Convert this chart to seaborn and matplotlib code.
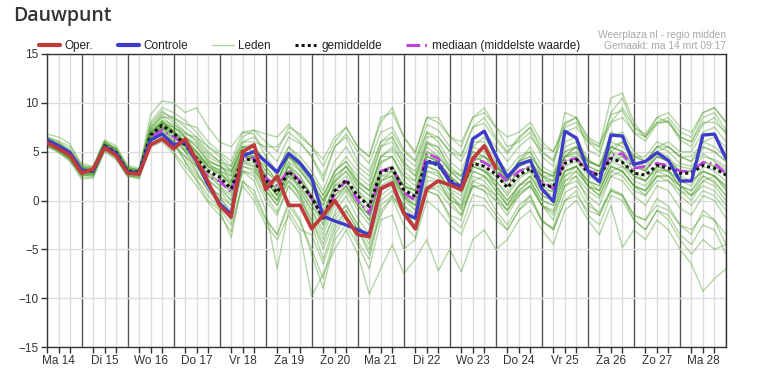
import numpy as np
import pandas as pd
import matplotlib
matplotlib.use("Agg")
import matplotlib.pyplot as plt
import matplotlib.dates as mdates
from matplotlib.lines import Line2D
from matplotlib.ticker import FuncFormatter, NullFormatter
import seaborn as sns

# ---------------- data ----------------
tijden = pd.date_range("2022-03-14 06:00", periods=60, freq="6h")
dagnamen = ["Ma", "Di", "Wo", "Do", "Vr", "Za", "Zo"]
y_ticks = [-15, -10, -5, 0, 5, 10, 15]
labels = ["Oper.", "Controle", "Leden", "gemiddelde", "mediaan (middelste waarde)"]

oper = [5.9, 5.3, 4.6, 2.8, 3.2, 5.4, 4.6, 2.8, 2.7, 5.7, 6.3, 5.3, 6.3, 4.1, 1.9,
        -0.5, -1.7, 5.0, 5.7, 1.1, 2.5, -0.5, -0.5, -2.9, -1.5, 0.0, -1.8, -3.5, -3.7,
        1.2, 1.8, -1.3, -2.9, 1.2, 2.0, 1.6, 1.1, 4.3, 5.6, 3.3]
controle = [6.2, 5.6, 4.9, 3.1, 3.0, 5.5, 4.8, 2.9, 2.8, 6.2, 6.8, 5.7, 6.0, 4.0, 1.6,
            -0.3, -1.4, 4.6, 5.0, 4.0, 2.9, 4.8, 3.8, 2.3, -1.6, -2.1, -2.5, -3.0, -3.5,
            1.2, 1.8, -1.3, -1.8, 3.9, 3.8, 1.9, 1.4, 6.3, 7.1, 4.6, 2.4, 3.7, 4.1,
            1.2, -0.1, 7.1, 6.4, 3.0, 1.9, 6.7, 6.6, 3.7, 4.0, 4.9, 4.1, 2.0, 2.0,
            6.7, 6.8, 4.3]
gemiddelde = [6.0, 5.4, 4.6, 3.0, 3.0, 5.6, 4.9, 3.0, 2.9, 6.7, 7.7, 6.9, 5.7, 4.3, 3.0,
              2.4, 1.2, 4.3, 4.1, 2.1, 0.8, 3.0, 1.8, 0.3, -1.8, 1.0, 2.1, 0.5, -0.6,
              2.9, 3.3, 1.1, 0.4, 4.1, 3.6, 2.1, 1.3, 3.8, 3.5, 2.7, 1.3, 2.6, 3.3,
              1.6, 1.4, 3.8, 4.2, 2.9, 2.6, 4.3, 3.9, 2.8, 2.6, 3.6, 3.3, 2.8, 2.8,
              3.6, 3.3, 2.6]
mediaan = [6.1, 5.4, 4.7, 2.9, 3.0, 5.6, 4.9, 2.9, 2.8, 6.5, 7.2, 6.5, 5.8, 3.9, 2.4,
           2.0, 0.8, 4.5, 4.3, 2.3, 1.5, 3.1, 2.0, 0.2, -1.7, 0.7, 2.0, 0.0, -1.3,
           3.0, 3.4, 0.8, 0.0, 4.8, 4.3, 2.0, 1.2, 4.3, 3.9, 3.1, 1.9, 3.0, 3.5,
           2.0, 1.2, 4.1, 4.3, 3.1, 2.6, 4.6, 4.8, 3.3, 3.5, 3.8, 3.6, 3.0, 3.0,
           3.9, 3.8, 2.8]

lid_01 = [6.3, 5.8, 5.0, 3.3, 3.2, 5.9, 5.3, 3.4, 3.1, 8.0, 9.5, 9.0, 8.2, 7.0, 5.5, 4.8, 3.5, 6.0, 6.5,
          5.2, 4.0, 6.5, 5.8, 4.5, 2.0, 5.5, 6.8, 5.0, 3.8, 7.0, 7.5, 5.2, 4.1, 7.8, 7.2, 5.5, 4.6, 7.5,
          7.9, 6.2, 4.8, 6.3, 7.5, 5.0, 4.2, 7.8, 8.5, 6.3, 5.5, 8.8, 9.2, 6.9, 6.1, 7.8, 8.2, 6.5, 6.0,
          8.5, 9.0, 7.2]
lid_02 = [5.8, 5.2, 4.2, 2.6, 2.5, 5.2, 4.5, 2.6, 2.2, 5.5, 6.0, 4.8, 3.0, 1.5, -0.2, -1.5, -3.2, 2.0,
          1.0, -1.8, -3.5, -0.5, -2.2, -5.0, -8.0, -3.5, -1.5, -4.2, -6.0, -1.0, 0.2, -2.5, -3.8, 1.0,
          0.5, -1.8, -2.8, 0.6, 0.2, -1.5, -3.0, -1.0, 0.5, -2.2, -2.8, 0.8, 1.5, -0.5, -1.2, 1.2, 0.6,
          -1.5, -2.0, 0.2, -0.6, -2.5, -3.5, -1.0, -2.0, -4.5]
lid_03 = [6.5, 6.1, 5.5, 3.8, 3.5, 6.2, 5.6, 3.6, 3.3, 7.5, 8.6, 7.5, 6.5, 5.8, 4.2, 3.5, 2.8, 5.5, 5.0,
          3.0, 1.8, 4.5, 3.2, 1.5, -0.5, 2.5, 3.5, 1.5, 0.5, 4.5, 5.2, 3.0, 2.0, 5.8, 5.5, 3.2, 2.5, 5.0,
          4.5, 3.8, 2.2, 4.0, 5.5, 3.5, 2.8, 6.0, 6.5, 4.2, 3.5, 7.0, 6.5, 4.5, 4.0, 5.5, 5.0, 3.8, 3.5,
          4.8, 4.0, 3.2]
lid_04 = [5.5, 5.0, 4.0, 2.2, 2.3, 5.0, 4.2, 2.4, 2.5, 6.0, 7.0, 5.8, 4.5, 2.8, 1.0, 0.2, -1.0, 3.0, 2.8,
          0.5, -1.2, 1.5, 0.2, -2.0, -4.5, -1.2, 0.5, -1.8, -3.5, 1.0, 1.8, -0.5, -1.5, 2.5, 2.0, 0.2,
          -0.8, 2.0, 1.5, 0.5, -1.0, 0.8, 1.5, -0.5, -1.2, 2.0, 2.5, 1.0, 0.2, 2.5, 2.0, 0.5, -0.5, 1.5,
          1.0, -0.8, -1.5, 0.5, 0.0, -1.8]
lid_05 = [6.8, 6.5, 5.8, 3.5, 3.1, 5.8, 5.4, 3.3, 3.0, 8.8, 10.2, 10.0, 9.0, 9.5, 7.5, 6.0, 5.5, 7.0,
          7.2, 6.8, 6.5, 7.8, 6.5, 5.5, 4.2, 6.5, 7.5, 5.5, 4.5, 8.0, 9.5, 6.5, 4.8, 8.5, 8.0, 6.5, 6.0,
          8.5, 9.0, 7.5, 5.5, 6.0, 7.0, 4.5, 3.5, 9.0, 8.5, 5.2, 4.5, 9.0, 10.5, 7.5, 6.5, 8.5, 8.0, 6.2,
          5.5, 7.8, 8.5, 6.8]
lid_06 = [5.9, 5.3, 4.4, 2.9, 2.8, 5.5, 4.8, 2.8, 2.6, 6.4, 7.4, 6.8, 5.0, 3.5, 2.0, 1.2, 0.0, 4.5, 4.5,
          2.5, 0.5, 3.8, 2.5, 0.5, -2.5, 0.0, 1.2, -0.5, -2.0, 2.5, 3.0, 0.5, -0.5, 4.0, 3.5, 1.8, 0.8,
          3.5, 3.0, 2.0, 0.5, 2.2, 3.0, 1.0, 1.0, 3.5, 4.0, 2.5, 2.0, 4.5, 4.0, 2.5, 2.0, 3.2, 3.0, 2.2,
          2.0, 3.0, 2.5, 1.5]
lid_07 = [6.0, 5.6, 4.9, 3.2, 3.3, 6.0, 5.2, 3.2, 3.0, 7.0, 8.2, 7.8, 7.0, 6.0, 4.5, 3.8, 2.0, 5.0, 5.5,
          4.0, 2.5, 5.0, 4.0, 2.5, 0.5, 3.0, 4.0, 2.5, 1.5, 5.5, 6.0, 3.5, 2.5, 6.0, 5.0, 3.0, 2.0, 5.5,
          6.5, 4.5, 3.0, 4.5, 5.0, 3.0, 2.5, 5.5, 6.0, 4.0, 3.5, 6.0, 5.5, 4.5, 4.5, 6.0, 5.5, 4.5, 4.0,
          6.0, 5.5, 4.5]
lid_08 = [6.1, 5.5, 4.5, 2.8, 2.6, 5.3, 4.6, 2.7, 2.4, 5.8, 6.3, 5.0, 3.5, 2.2, 0.5, -0.8, -2.5, 1.5,
          0.0, -2.5, -4.0, -1.5, -3.5, -9.8, -7.5, -5.0, -3.0, -5.5, -9.6, -7.0, -4.5, -7.5, -6.0, -4.0,
          -7.2, -5.0, -7.3, -4.0, -3.0, -5.0, -4.0, -2.0, -1.0, -3.0, -4.5, -1.0, 0.0, -2.0, -3.5, -0.5,
          -4.8, -3.0, -4.0, -2.0, -3.0, -5.0, -6.5, -9.3, -8.0, -7.0]
lid_09 = [6.4, 5.9, 5.2, 3.6, 3.4, 6.1, 5.3, 3.2, 3.1, 7.2, 8.8, 8.0, 6.5, 5.0, 3.5, 2.8, 1.8, 4.8, 4.2,
          2.2, 1.2, 3.5, 2.0, 0.5, -1.5, 1.8, 3.0, 1.0, 0.0, 3.8, 4.5, 2.5, 2.0, 5.5, 4.5, 3.0, 2.0, 4.5,
          4.0, 3.5, 2.5, 3.5, 4.0, 2.5, 2.0, 4.5, 4.8, 3.5, 3.0, 5.0, 4.5, 3.5, 3.2, 4.5, 4.0, 3.5, 3.2,
          4.5, 4.2, 3.5]
lid_10 = [5.7, 5.1, 4.3, 2.5, 2.7, 5.4, 4.7, 2.9, 2.7, 6.2, 7.0, 6.0, 4.0, 2.5, 1.5, 0.5, -1.5, 3.5, 3.2,
          1.0, -0.5, 2.0, 0.8, -1.0, -3.5, -0.5, 1.0, -1.0, -2.5, 1.5, 2.2, 0.0, -1.0, 3.0, 2.8, 1.0,
          0.0, 3.0, 2.5, 1.5, 0.0, 1.5, 2.0, 0.0, -0.5, 2.5, 3.0, 1.5, 1.0, 3.5, 3.0, 1.5, 1.0, 2.5, 2.0,
          1.0, 0.5, 2.5, 1.8, 0.5]
lid_11 = [6.2, 5.5, 4.7, 3.1, 3.0, 5.7, 5.0, 3.1, 2.9, 6.8, 7.9, 7.2, 6.0, 5.0, 3.8, 3.0, 2.5, 5.5, 5.8,
          3.5, 2.0, 4.5, 3.5, 1.8, 0.0, 2.0, 3.5, 1.8, 1.0, 4.5, 5.5, 3.8, 3.0, 6.5, 6.5, 5.0, 4.5, 7.5,
          8.5, 6.5, 5.0, 6.5, 7.5, 5.5, 5.0, 8.0, 8.5, 6.5, 5.8, 8.0, 9.5, 7.5, 6.8, 8.5, 9.0, 7.5, 7.0,
          9.0, 9.5, 8.0]
lid_12 = [5.6, 4.9, 4.1, 2.4, 2.4, 5.1, 4.3, 2.5, 2.3, 5.7, 6.5, 5.5, 4.5, 3.5, 2.5, 1.5, 0.5, 3.8, 3.5,
          1.0, 0.0, 2.8, 1.2, -0.5, -2.0, 0.5, 1.5, -0.5, -1.5, 2.0, 2.5, 0.2, -0.5, 3.5, 3.0, 1.2, 0.5,
          3.5, 3.0, 2.0, 0.8, 2.5, 3.0, 1.5, 0.8, 3.0, 3.5, 2.0, 1.5, 4.0, 3.5, 2.5, 2.0, 3.5, 3.5, 2.5,
          2.0, 3.0, 2.5, 1.2]
lid_13 = [6.0, 5.4, 4.8, 3.0, 2.9, 5.6, 4.9, 3.0, 2.8, 6.6, 7.5, 6.5, 5.5, 4.0, 2.8, 2.0, 0.8, 4.0, 3.8,
          2.0, 0.5, 3.0, 1.5, 0.0, -2.0, 1.0, 2.0, 0.0, -1.0, 3.0, 3.0, 0.5, -0.5, 3.5, 3.0, 1.0, -1.0,
          1.5, 1.0, -1.0, -2.5, -0.5, 0.5, -2.0, -3.0, 0.0, 1.0, -1.5, -2.5, 0.5, 0.0, -2.0, -3.0, -1.0,
          -1.5, -3.5, -4.5, -2.5, -3.0, -5.5]
lid_14 = [6.2, 5.7, 4.8, 3.2, 3.1, 5.8, 5.1, 3.1, 3.0, 7.5, 9.0, 8.5, 7.5, 6.5, 5.0, 4.0, 3.0, 6.0, 6.0,
          5.5, 5.5, 7.0, 6.0, 4.5, 2.5, 5.5, 6.5, 4.0, 3.0, 6.0, 6.5, 4.5, 3.5, 7.0, 6.0, 4.0, 3.0, 6.0,
          6.0, 4.0, 2.0, 4.0, 5.0, 2.5, 1.5, 4.5, 5.5, 3.0, 2.0, 5.0, 6.0, 4.0, 3.0, 5.0, 4.5, 3.0, 3.0,
          5.5, 5.0, 4.0]
lid_15 = [5.8, 5.1, 4.3, 2.7, 2.8, 5.5, 4.8, 2.9, 2.8, 6.3, 7.0, 6.5, 5.5, 4.5, 3.5, 3.2, 2.0, 5.0, 4.8,
          2.5, 1.0, 3.5, 2.0, 0.5, -1.0, 1.5, 2.0, 0.0, -1.5, 2.5, 2.5, 0.5, 0.0, 4.0, 3.5, 2.0, 1.0, 4.0,
          4.5, 3.0, 1.5, 3.0, 3.5, 2.0, 2.0, 4.5, 5.0, 3.5, 3.0, 5.5, 5.0, 3.5, 3.0, 4.5, 4.0, 3.0, 3.0,
          4.0, 3.5, 2.8]
lid_16 = [6.0, 5.3, 4.5, 2.9, 2.9, 5.6, 4.9, 3.0, 2.9, 6.5, 7.5, 6.0, 4.0, 2.0, 0.0, -1.0, -3.8, 2.0,
          0.5, -2.0, -3.5, 0.0, -2.0, -5.5, -9.0, -4.0, -2.5, -4.5, -7.0, -2.0, -1.5, -5.0, -4.0, 0.0,
          -1.0, -2.5, -3.5, -0.5, -0.5, -2.0, -3.0, -1.0, 0.0, -2.0, -3.0, 0.0, 0.5, -1.0, -1.5, 1.0, 0.5,
          -1.5, -2.0, -0.5, -1.0, -2.5, -3.0, -1.5, -2.0, -3.5]
lid_17 = [6.5, 6.0, 5.1, 3.4, 3.4, 6.0, 5.3, 3.4, 3.2, 7.2, 8.5, 8.5, 7.8, 7.5, 6.0, 5.0, 4.0, 7.0, 6.8,
          4.5, 3.0, 5.5, 4.0, 2.5, 0.5, 3.0, 4.0, 2.0, 1.0, 4.0, 4.5, 2.0, 1.0, 5.0, 4.0, 2.0, 1.0, 4.5,
          4.5, 3.5, 2.0, 4.0, 4.5, 3.0, 2.5, 5.0, 5.5, 4.0, 3.5, 6.5, 7.0, 5.0, 4.0, 5.5, 5.5, 4.5, 4.0,
          5.5, 5.0, 4.0]
lid_18 = [5.9, 5.4, 4.6, 3.0, 3.1, 5.7, 5.0, 3.0, 2.9, 6.5, 7.5, 6.8, 6.0, 4.8, 3.0, 1.5, 0.0, 3.5, 3.0,
          1.5, 0.0, 2.0, 0.5, -1.5, -4.0, -1.5, -0.5, -2.5, -4.5, 0.0, 1.0, -1.0, -2.0, 2.0, 2.0, 0.0,
          -1.5, 1.5, 1.5, 0.0, -1.5, 0.5, 1.5, -0.5, -1.0, 2.0, 3.0, 1.5, 0.5, 3.0, 2.5, 1.0, 0.5, 2.0,
          2.0, 0.5, -0.5, 1.0, 0.5, -1.0]
lid_19 = [6.3, 5.7, 5.0, 3.5, 3.3, 5.9, 5.2, 3.3, 3.2, 7.8, 9.2, 8.2, 7.0, 6.2, 4.8, 4.0, 3.5, 6.5, 7.2,
          6.0, 5.0, 7.5, 6.8, 5.5, 3.5, 6.0, 7.5, 5.5, 4.5, 8.5, 9.0, 6.5, 5.0, 8.5, 8.5, 6.5, 5.5, 8.5,
          9.5, 7.5, 6.5, 7.0, 8.0, 6.0, 5.0, 7.5, 8.0, 6.0, 5.0, 8.0, 8.5, 7.0, 6.5, 8.0, 8.0, 6.5, 6.0,
          8.0, 8.0, 7.0]
lid_20 = [5.7, 5.2, 4.4, 2.7, 2.7, 5.3, 4.7, 2.8, 2.6, 6.0, 6.8, 6.2, 5.2, 4.0, 2.2, 1.0, -0.5, 3.0, 2.5,
          0.0, -1.5, 1.5, 0.0, -2.0, -5.0, -2.0, -0.5, -2.5, -4.0, 0.5, 1.5, -0.5, -2.0, 1.5, 1.0, -0.5,
          -1.5, 1.5, 1.0, 0.0, -1.0, 1.0, 2.0, 0.0, -0.5, 2.5, 3.5, 1.5, 1.0, 3.5, 3.0, 1.5, 1.0, 2.5,
          2.5, 1.5, 1.0, 3.0, 2.5, 1.5]
lid_21 = [6.1, 5.5, 4.7, 3.0, 3.0, 5.6, 5.0, 3.1, 2.9, 6.8, 7.6, 7.0, 6.5, 5.5, 4.0, 3.5, 2.5, 5.0, 4.5,
          2.5, 1.5, 4.0, 3.0, 1.5, -0.5, 2.5, 3.5, 2.0, 1.0, 4.5, 4.5, 2.5, 1.5, 5.0, 4.5, 3.0, 2.5, 5.0,
          4.5, 3.5, 2.5, 4.0, 4.5, 3.0, 2.5, 5.0, 5.5, 4.0, 3.5, 5.5, 5.0, 4.0, 3.5, 5.0, 5.5, 4.5, 4.5,
          6.0, 6.5, 5.5]
lid_22 = [6.4, 5.8, 5.0, 3.3, 3.1, 5.8, 5.1, 3.2, 3.0, 7.0, 8.0, 7.2, 5.5, 3.5, 1.5, 0.5, -0.5, 4.5, 4.0,
          1.0, -0.5, 2.5, 0.5, -2.5, -6.0, -2.5, -1.0, -3.0, -5.5, -0.5, 0.5, -1.5, -3.0, 1.0, 0.5, -1.5,
          -2.0, 2.0, 2.5, 1.0, -0.5, 1.5, 2.5, 0.5, 0.0, 3.0, 3.5, 1.5, 0.5, 3.0, 3.5, 2.0, 1.5, 3.0,
          3.0, 1.5, 1.0, 2.5, 2.0, 0.5]
lid_23 = [5.6, 5.0, 4.2, 2.6, 2.6, 5.2, 4.5, 2.6, 2.5, 5.8, 6.8, 6.0, 5.0, 4.5, 3.8, 3.0, 1.5, 4.0, 4.5,
          3.5, 2.0, 4.5, 3.0, 1.5, 0.0, 2.0, 3.0, 1.5, 0.5, 3.0, 3.5, 1.5, 1.0, 4.0, 4.0, 2.5, 1.5, 4.0,
          3.0, 1.5, 0.0, 1.5, 2.5, 0.5, 0.0, 3.0, 3.5, 2.0, 1.5, 4.0, 4.5, 3.0, 2.0, 3.5, 3.0, 2.0, 1.5,
          3.5, 3.0, 2.0]
lid_24 = [6.2, 5.6, 4.9, 3.1, 3.0, 5.7, 5.0, 3.0, 3.0, 6.9, 8.0, 7.0, 6.2, 5.0, 3.5, 2.5, 1.0, 4.5, 4.5,
          2.5, 1.0, 3.5, 2.5, 0.5, -1.5, 1.5, 2.5, 1.0, -0.5, 3.0, 3.5, 1.5, 1.0, 4.5, 4.0, 2.5, 1.5, 4.0,
          3.5, 1.5, -0.5, 1.0, 2.0, -0.5, -1.5, 1.5, 2.5, 0.0, -1.5, 1.0, 0.5, -2.0, -3.0, -1.0, -2.0,
          -4.0, -5.5, -4.0, -5.0, -4.5]
lid_25 = [5.9, 5.3, 4.5, 2.9, 2.9, 5.5, 4.9, 3.0, 2.8, 6.6, 7.8, 7.0, 6.0, 4.5, 2.5, 2.0, 1.0, 4.5, 4.5,
          2.0, 0.5, 3.0, 1.0, -1.0, -3.0, 0.0, 1.5, 0.0, -1.5, 2.0, 3.0, 1.5, 1.0, 4.5, 4.0, 2.0, 1.0, 3.5,
          3.0, 2.5, 1.5, 3.0, 3.5, 2.5, 2.5, 4.5, 4.5, 3.0, 3.0, 5.0, 4.0, 2.5, 2.0, 3.5, 3.0, 1.5, 0.5,
          1.5, 1.0, -0.5]
lid_26 = [6.0, 5.5, 4.6, 3.1, 3.0, 5.6, 4.9, 3.0, 3.0, 6.8, 8.0, 7.5, 6.8, 6.5, 5.5, 4.5, 3.0, 5.5, 5.0,
          3.0, 2.0, 4.5, 3.5, 2.0, 0.0, 3.0, 4.5, 3.0, 2.0, 5.5, 6.5, 4.0, 2.5, 6.0, 5.5, 3.5, 2.5, 5.5,
          5.0, 3.5, 2.0, 3.5, 4.0, 2.0, 1.0, 4.0, 4.5, 3.0, 2.5, 5.5, 6.0, 4.5, 4.0, 5.5, 6.0, 5.0, 5.0,
          7.0, 7.5, 6.0]
lid_27 = [6.3, 5.6, 4.8, 3.2, 3.2, 5.7, 5.1, 3.1, 3.0, 7.0, 8.2, 7.0, 5.0, 3.0, 1.0, -0.5, -2.0, 3.0,
          2.0, -1.0, -7.0, -1.0, -3.0, -3.5, -6.5, -3.0, -1.0, -3.0, -5.0, -1.5, 0.5, -1.0, -2.5, 1.0,
          1.5, 0.0, -0.5, 2.5, 2.0, 0.5, -1.0, 0.5, 1.5, -0.5, -2.0, 1.5, 2.0, 0.5, -0.5, 2.5, 3.0, 1.5,
          0.5, 2.5, 2.5, 1.5, 0.5, 2.0, 2.5, 1.0]
lid_28 = [6.1, 5.4, 4.6, 3.0, 3.0, 5.6, 5.0, 3.0, 2.9, 6.7, 7.7, 6.9, 5.8, 4.5, 3.2, 2.8, 1.8, 5.0, 4.5,
          2.0, 0.5, 3.0, 2.0, 0.5, -1.5, 1.0, 2.0, 0.5, -0.5, 3.0, 3.5, 1.5, 0.5, 4.5, 4.0, 2.5, 1.5, 4.5,
          4.0, 3.0, 2.0, 3.5, 4.0, 2.5, 2.0, 4.5, 5.5, 4.0, 3.5, 5.5, 5.0, 3.5, 3.0, 4.5, 4.0, 3.0, 3.0,
          4.0, 3.5, 2.5]
lid_29 = [6.2, 5.6, 4.7, 3.1, 3.0, 5.6, 5.0, 3.1, 3.0, 6.9, 8.0, 7.5, 6.5, 5.5, 4.0, 3.5, 3.0, 5.5, 5.5,
          4.0, 3.0, 5.5, 4.5, 3.0, 1.0, 4.0, 5.5, 3.5, 2.5, 6.0, 7.0, 5.0, 4.0, 7.0, 6.5, 5.0, 4.0, 6.5,
          7.0, 5.5, 4.0, 5.5, 6.5, 5.0, 4.0, 7.0, 7.5, 6.0, 5.5, 10.5, 11.0, 8.0, 6.5, 8.0, 8.5, 7.0, 6.5,
          9.0, 9.5, 8.0]
lid_30 = [5.8, 5.2, 4.4, 2.8, 2.8, 5.5, 4.7, 2.8, 2.7, 6.4, 7.2, 6.5, 5.8, 5.0, 3.5, 2.8, 1.5, 4.0, 3.5,
          1.5, 0.0, 2.5, 1.5, -0.5, -2.5, 0.5, 1.5, -0.5, -2.0, 2.0, 2.5, 0.5, -1.0, 3.0, 2.5, 0.5, -0.5,
          3.0, 2.5, 1.0, -0.5, 1.5, 2.5, 1.0, 0.5, 3.0, 3.5, 2.0, 1.0, 3.5, 3.0, 1.5, 1.0, 3.0, 2.5, 1.0,
          0.0, 2.0, 1.5, 0.0]

leden = [lid_01, lid_02, lid_03, lid_04, lid_05, lid_06, lid_07, lid_08, lid_09, lid_10,
         lid_11, lid_12, lid_13, lid_14, lid_15, lid_16, lid_17, lid_18, lid_19, lid_20,
         lid_21, lid_22, lid_23, lid_24, lid_25, lid_26, lid_27, lid_28, lid_29, lid_30]

# ---------------- style ----------------
sns.set_theme(style="white")
plt.rcParams["font.family"] = ["Liberation Sans", "DejaVu Sans"]

ROOD = "#c0393b"
BLAUW = "#3d3dc9"
GROEN = "#4f9e2c"
ZWART = "#111111"
PAARS = "#c040e0"
TEKST = "#333333"

fig = plt.figure(figsize=(7.62, 3.83), dpi=100)
fig.patch.set_facecolor("white")
ax = fig.add_axes([47 / 762, 1 - 347 / 383, (726 - 47) / 762, (347 - 54) / 383])

df_leden = pd.concat(
    [pd.DataFrame({"tijd": tijden[:len(v)], "waarde": v, "lid": k}) for k, v in enumerate(leden)],
    ignore_index=True)

sns.lineplot(data=df_leden, x="tijd", y="waarde", units="lid", estimator=None,
             color=GROEN, alpha=0.42, linewidth=1.0, ax=ax, legend=False, zorder=2)
sns.lineplot(x=tijden[:len(mediaan)], y=mediaan, color=PAARS, linewidth=1.9,
             linestyle=(0, (4.5, 1.6, 0.6, 1.6)), ax=ax, zorder=3)
sns.lineplot(x=tijden[:len(gemiddelde)], y=gemiddelde, color=ZWART, linewidth=2.2,
             linestyle=(0, (1, 1)), ax=ax, zorder=4)
sns.lineplot(x=tijden[:len(controle)], y=controle, color=BLAUW, linewidth=2.4, ax=ax, zorder=5)
sns.lineplot(x=tijden[:len(oper)], y=oper, color=ROOD, linewidth=2.6, ax=ax, zorder=6)

ax.set_xlim(tijden[0], tijden[-1])
ax.set_ylim(y_ticks[0], y_ticks[-1])
ax.set_yticks(y_ticks)
ax.set_xlabel("")
ax.set_ylabel("")

ax.xaxis.set_major_locator(mdates.HourLocator(byhour=[0]))
ax.xaxis.set_minor_locator(mdates.HourLocator(byhour=[6, 12, 18]))
ax.xaxis.set_major_formatter(NullFormatter())


def dag_label(x, pos):
    uur = int(round((x % 1) * 24)) % 24
    if uur != 12:
        return ""
    d = mdates.num2date(x)
    return f"{dagnamen[d.weekday()]} {d.day}"


ax.xaxis.set_minor_formatter(FuncFormatter(dag_label))

ax.grid(which="minor", axis="x", color="#dcdcdc", linewidth=1.0)
ax.grid(which="major", axis="x", color="#555555", linewidth=1.0)
ax.grid(which="major", axis="y", color="#dcdcdc", linewidth=1.0)
ax.set_axisbelow(True)

ax.tick_params(axis="x", which="major", bottom=False, length=0)
ax.tick_params(axis="x", which="minor", bottom=True, length=4, width=1, color=TEKST,
               labelsize=8.5, labelcolor=TEKST, pad=2)
ax.tick_params(axis="y", which="major", left=True, length=4, width=1, color=TEKST,
               labelsize=8.5, labelcolor=TEKST, pad=2)

for s in ax.spines.values():
    s.set_visible(True)
    s.set_color(TEKST)
    s.set_linewidth(1.0)

handles = [
    Line2D([], [], color=ROOD, lw=3),
    Line2D([], [], color=BLAUW, lw=3),
    Line2D([], [], color=GROEN, lw=1, alpha=0.45),
    Line2D([], [], color=ZWART, lw=2.2, linestyle=(0, (1, 1))),
    Line2D([], [], color=PAARS, lw=2.2, linestyle=(0, (4.5, 1.6, 0.6, 1.6))),
]
leg = ax.legend(handles, labels, loc="lower left", bbox_to_anchor=(-0.012, 1.006), ncol=5,
                frameon=False, fontsize=8.5, handlelength=1.8, handletextpad=0.4,
                columnspacing=2.05, borderaxespad=0, borderpad=0)
for t in leg.get_texts():
    t.set_color("#222222")

fig.text(13 / 762, 1 - 16 / 383, "Dauwpunt", fontsize=14, color=TEKST,
         family=["Open Sans", "DejaVu Sans"], weight="semibold", va="center", ha="left")
fig.text(726 / 762, 1 - 35 / 383, "Weerplaza.nl - regio midden", ha="right", va="center",
         fontsize=7.4, color="#a8a8a8")
fig.text(726 / 762, 1 - 46 / 383, "Gemaakt: ma 14 mrt 09:17", ha="right", va="center",
         fontsize=7.4, color="#a8a8a8")

fig.savefig("out.png", dpi=100, facecolor="white")
